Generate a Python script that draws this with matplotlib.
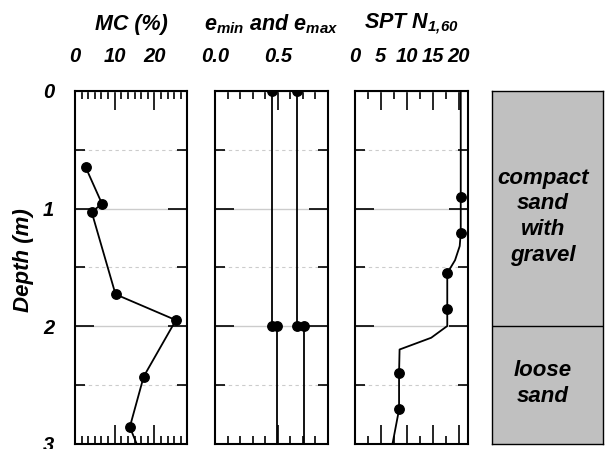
import matplotlib
matplotlib.use("Agg")
import matplotlib.pyplot as plt
from matplotlib.ticker import MultipleLocator, FixedLocator, FormatStrFormatter

plt.rcParams['font.family'] = ['Liberation Sans', 'DejaVu Sans']
plt.rcParams['font.weight'] = 'bold'
plt.rcParams['font.style'] = 'italic'
plt.rcParams['mathtext.fontset'] = 'custom'
plt.rcParams['mathtext.it'] = 'Liberation Sans:bold:italic'
plt.rcParams['mathtext.rm'] = 'Liberation Sans:bold:italic'
plt.rcParams['mathtext.default'] = 'it'

# moisture content (%) vs depth (m)
mc_depth = [0.65, 0.96, 1.03, 1.73, 1.95, 2.43, 2.86, 3.2]
mc_value = [2.7, 6.8, 4.2, 10.2, 25.4, 17.3, 13.8, 17.9]

# void ratio limits
emin_depth = [0.0, 2.0, 2.0, 3.2]
emin_value = [0.452, 0.452, 0.496, 0.496]
emax_depth = [0.0, 2.0, 2.0, 3.2]
emax_value = [0.656, 0.656, 0.709, 0.709]
e_marker_idx = [0, 1, 2]

# SPT N1,60 measurements and profile
spt_depth = [0.90, 1.21, 1.55, 1.855, 2.40, 2.71]
spt_value = [20.4, 20.4, 17.8, 17.8, 8.5, 8.5]
spt_line_depth = [0.0, 0.90, 1.21, 1.32, 1.44, 1.55, 1.855, 2.0, 2.10, 2.20, 2.40, 2.71, 3.0]
spt_line_value = [20.4, 20.4, 20.4, 20.2, 19.3, 17.8, 17.8, 17.8, 14.7, 8.6, 8.5, 8.5, 7.25]

# soil layers
layer_top = [0.0, 2.0]
layer_bottom = [2.0, 3.0]
layer_names = ['compact\nsand\nwith\ngravel', 'loose\nsand']
layer_label_depth = [1.07, 2.49]

W, H = 605, 449
fig = plt.figure(figsize=(W / 100, H / 100), dpi=100)

top_px, bot_px = 91, 443.5
bottom = 1 - bot_px / H
height = (bot_px - top_px) / H


def make_ax(x0, x1):
    return fig.add_axes([x0 / W, bottom, (x1 - x0) / W, height])


ax1 = make_ax(75, 187)
ax2 = make_ax(215, 328)
ax3 = make_ax(355, 468)
ax4 = make_ax(492, 603)

for ax in (ax1, ax2, ax3):
    ax.set_ylim(3, 0)
    ax.yaxis.set_major_locator(MultipleLocator(1))
    ax.yaxis.set_minor_locator(FixedLocator([0.5, 1.5, 2.5]))
    ax.grid(True, which='major', axis='y', color='#cccccc', lw=1, ls='-')
    ax.grid(True, which='minor', axis='y', color='#cccccc', lw=0.8, ls=(0, (3, 3)))
    ax.xaxis.tick_top()
    ax.tick_params(axis='x', which='both', direction='in', top=True, bottom=True,
                   labeltop=True, labelbottom=False, pad=18, labelsize=14.5, width=1.2)
    ax.tick_params(axis='x', which='major', length=14)
    ax.tick_params(axis='x', which='minor', length=6)
    ax.tick_params(axis='y', which='both', direction='in', left=True, right=True,
                   labelleft=False, width=1.2)
    ax.tick_params(axis='y', which='major', length=14)
    ax.tick_params(axis='y', which='minor', length=7)
    for s in ax.spines.values():
        s.set_linewidth(1.5)
    ax.set_axisbelow(True)

ax1.tick_params(axis='y', labelleft=True, pad=15, labelsize=14.5)

# MC panel
ax1.set_xlim(0, 28.2)
ax1.xaxis.set_major_locator(FixedLocator([0, 10, 20]))
ax1.xaxis.set_minor_locator(MultipleLocator(10 / 6))
ax1.plot(mc_value, mc_depth, color='black', lw=1.3, marker='o', ms=6.8)
ax1.text(0.5, 1.19, 'MC (%)', transform=ax1.transAxes, ha='center', va='center', fontsize=15.5)

# e panel
ax2.set_xlim(0, 0.9)
ax2.xaxis.set_major_locator(FixedLocator([0.0, 0.5]))
ax2.xaxis.set_minor_locator(MultipleLocator(0.1))
ax2.xaxis.set_major_formatter(FormatStrFormatter('%.1f'))
ax2.plot(emin_value, emin_depth, color='black', lw=1.3, marker='o', ms=6.8, markevery=e_marker_idx)
ax2.plot(emax_value, emax_depth, color='black', lw=1.3, marker='o', ms=6.8, markevery=e_marker_idx)
ax2.text(0.5, 1.19, 'e$_{min}$ and e$_{max}$', transform=ax2.transAxes, ha='center', va='center',
         fontsize=15.5)

# SPT panel
ax3.set_xlim(0, 21.8)
ax3.xaxis.set_major_locator(MultipleLocator(5))
ax3.xaxis.set_minor_locator(MultipleLocator(2.5))
ax3.plot(spt_line_value, spt_line_depth, color='black', lw=1.3)
ax3.plot(spt_value, spt_depth, 'o', color='black', ms=6.8)
ax3.text(0.5, 1.19, 'SPT N$_{1{,}60}$', transform=ax3.transAxes, ha='center', va='center',
         fontsize=15.5)

# soil column
ax4.set_xlim(0, 1)
ax4.set_ylim(3, 0)
ax4.set_xticks([])
ax4.set_yticks([])
ax4.set_facecolor('#c0c0c0')
for t in layer_top[1:]:
    ax4.axhline(t, color='black', lw=1)
for y, name in zip(layer_label_depth, layer_names):
    ax4.text(0.46, y, name, ha='center', va='center', fontsize=16, linespacing=1.3)
for s in ax4.spines.values():
    s.set_linewidth(1)

fig.text(24 / W, 1 - 260 / H, 'Depth (m)', rotation=90, ha='center', va='center', fontsize=16)

fig.savefig('out.png', dpi=100)
